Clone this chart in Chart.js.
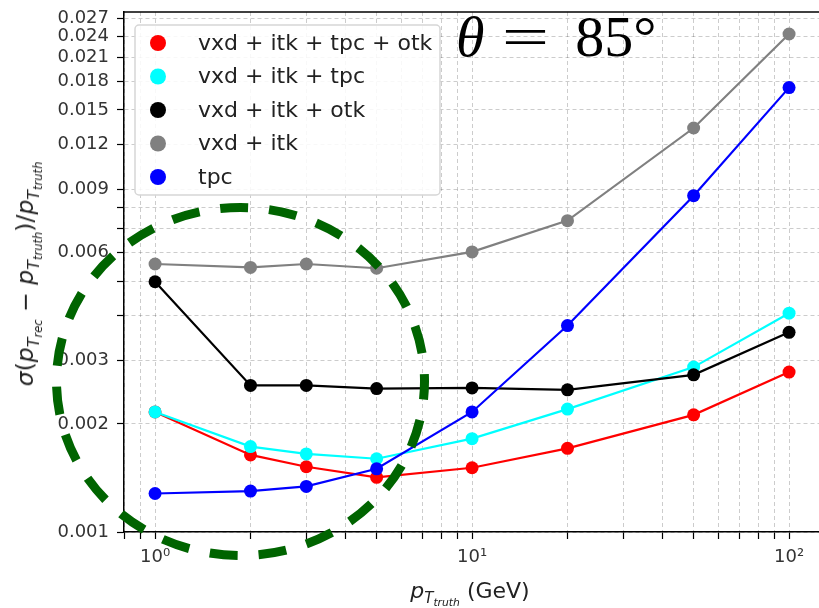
<!DOCTYPE html>
<html>
<head>
<meta charset="utf-8">
<script src="https://cdn.jsdelivr.net/npm/chart.js@4"></script>
<style>
  body { margin: 0; background: #fff; }
  #wrap { position: relative; width: 819px; height: 608px; overflow: hidden; }
  #chart { position: absolute; left: 0; top: 0; }
  .math { font-family: 'DejaVu Sans', sans-serif; color: #222; white-space: nowrap; position: absolute; }
  .math i { font-style: italic; }
  .s1 { font-size: 68%; position: relative; top: 0.35em; }
  .s2 { font-size: 72%; position: relative; top: 0.3em; }
  #ytitle { left: 25px; top: 274px; font-size: 23.5px; transform: translate(-50%, -50%) rotate(-90deg); }
  #xtitle { left: 470px; top: 590px; font-size: 22px; transform: translate(-50%, -50%); }
  #theta { left: 456px; top: 8px; font-family: 'Liberation Serif', serif; font-size: 58px; line-height: 1; color: #000; position: absolute; white-space: nowrap; }
  #theta .eq { display: inline-block; transform: scaleX(1.45); margin: 0 34px 0 24px; }
</style>
</head>
<body>
<div id="wrap">
  <canvas id="chart" width="819" height="608"></canvas>
  <div id="ytitle" class="math"><i>σ</i>(<i>p</i><span class="s1"><i>T</i><span class="s2"><i>rec</i></span></span> − <i>p</i><span class="s1"><i>T</i><span class="s2"><i>truth</i></span></span>)/<i>p</i><span class="s1"><i>T</i><span class="s2"><i>truth</i></span></span></div>
  <div id="xtitle" class="math"><i>p</i><span class="s1"><i>T</i><span class="s2"><i>truth</i></span></span> (GeV)</div>
  <div id="theta"><i>θ</i><span class="eq">=</span>85°</div>
</div>
<script>
// ---- data (theta = 85 deg)
const ptTruth = [1, 2, 3, 5, 10, 20, 50, 100];

const resVxdItkTpcOtk = [0.00216, 0.00164, 0.00152, 0.00142, 0.00151, 0.00171, 0.00212, 0.00279];
const resVxdItkTpc    = [0.00216, 0.00173, 0.00165, 0.00160, 0.00182, 0.00220, 0.00288, 0.00407];
const resVxdItkOtk    = [0.00498, 0.00256, 0.00256, 0.00251, 0.00252, 0.00249, 0.00274, 0.00360];
const resVxdItk       = [0.00558, 0.00546, 0.00558, 0.00543, 0.00603, 0.00737, 0.01335, 0.0244];
const resTpc          = [0.00128, 0.00130, 0.00134, 0.00150, 0.00216, 0.00376, 0.00865, 0.0173];

const seriesLabels = ['vxd + itk + tpc + otk', 'vxd + itk + tpc', 'vxd + itk + otk', 'vxd + itk', 'tpc'];
const seriesColors = ['#ff0000', '#00ffff', '#000000', '#808080', '#0000ff'];

const yTicks = [0.001, 0.002, 0.003, 0.004, 0.005, 0.006, 0.007, 0.008, 0.009,
                0.012, 0.015, 0.018, 0.021, 0.024, 0.027];
const yTickLabels = [0.001, 0.002, 0.003, 0.006, 0.009, 0.012, 0.015, 0.018, 0.021, 0.024, 0.027];
const xTicks = [0.8, 0.9, 1, 2, 3, 4, 5, 6, 7, 8, 9, 10, 20, 30, 40, 50, 60, 70, 80, 90, 100];
const xTickLabels = { 1: '10⁰', 10: '10¹', 100: '10²' };

const allSeries = [resVxdItkTpcOtk, resVxdItkTpc, resVxdItkOtk, resVxdItk, resTpc];

const datasets = allSeries.map((vals, i) => ({
  label: seriesLabels[i],
  data: ptTruth.map((x, k) => ({ x, y: vals[k] })),
  borderColor: seriesColors[i],
  backgroundColor: seriesColors[i],
  pointBackgroundColor: seriesColors[i],
  pointBorderColor: seriesColors[i],
  borderWidth: 2.2,
  pointRadius: 6.5,
  pointBorderWidth: 0,
  tension: 0,
  order: allSeries.length - 1 - i,   // later series on top, like matplotlib
}));

const gridColor = 'rgba(0,0,0,0.2)';
const tickFont = { family: 'DejaVu Sans', size: 18 };

// legend box drawn inside the axes, upper left
const legendPlugin = {
  id: 'innerLegend',
  afterDatasetsDraw(chart) {
    const ctx = chart.ctx;
    ctx.save();
    ctx.beginPath();
    ctx.roundRect(135, 25, 305, 170, 4);
    ctx.fillStyle = 'rgba(255,255,255,0.85)';
    ctx.fill();
    ctx.strokeStyle = '#d6d6d6';
    ctx.lineWidth = 1.5;
    ctx.stroke();
    ctx.font = '22px "DejaVu Sans"';
    ctx.textBaseline = 'middle';
    seriesLabels.forEach((lab, i) => {
      const y = 43 + i * 33.5;
      ctx.beginPath();
      ctx.arc(158, y, 8, 0, Math.PI * 2);
      ctx.fillStyle = seriesColors[i];
      ctx.fill();
      ctx.fillStyle = '#222';
      ctx.fillText(lab, 198, y + 1);
    });
    ctx.restore();
  }
};

// top spine + the dashed green highlight around the low-pT region
const overlayPlugin = {
  id: 'overlay',
  afterDraw(chart) {
    const { ctx, chartArea } = chart;
    ctx.save();
    ctx.strokeStyle = '#000';
    ctx.lineWidth = 1.5;
    ctx.beginPath();
    ctx.moveTo(chartArea.left, chartArea.top);
    ctx.lineTo(chartArea.right, chartArea.top);
    ctx.stroke();

    ctx.strokeStyle = '#006400';
    ctx.lineWidth = 9;
    ctx.setLineDash([28, 21]);
    ctx.lineDashOffset = 10;
    ctx.beginPath();
    ctx.ellipse(240.5, 381.5, 184, 174, 0, 0, Math.PI * 2);
    ctx.stroke();
    ctx.restore();
  }
};

new Chart(document.getElementById('chart'), {
  type: 'line',
  data: { datasets },
  options: {
    responsive: false,
    animation: false,
    layout: { autoPadding: false, padding: { left: 0, top: 12, right: 0, bottom: 0 } },
    plugins: { legend: { display: false }, tooltip: { enabled: false } },
    scales: {
      x: {
        type: 'logarithmic',
        min: 0.798,
        max: 124.3,
        afterBuildTicks: s => { s.ticks = xTicks.map(v => ({ value: v })); },
        afterFit: s => { s.height = 76; s.paddingLeft = 0; s.paddingRight = 0; },
        ticks: {
          autoSkip: false, maxRotation: 0, minRotation: 0,
          padding: 8, color: '#333', font: tickFont,
          callback: v => xTickLabels[Math.round(v)] && Math.abs(v - Math.round(v)) < 1e-6 ? xTickLabels[Math.round(v)] : ''
        },
        grid: { color: gridColor, lineWidth: 1, tickLength: 7, tickColor: '#000', tickWidth: 1.2 },
        border: { display: true, color: '#000', width: 1.5, dash: [4, 3] }
      },
      y: {
        type: 'logarithmic',
        min: 0.001,
        max: 0.0281,
        afterBuildTicks: s => { s.ticks = yTicks.map(v => ({ value: v })); },
        afterFit: s => { s.width = 124; s.paddingTop = 0; s.paddingBottom = 0; },
        ticks: {
          autoSkip: false, padding: 8, color: '#333', font: tickFont,
          callback: v => yTickLabels.some(t => Math.abs(t - v) < 1e-7) ? v.toFixed(3) : ''
        },
        grid: { color: gridColor, lineWidth: 1, tickLength: 7, tickColor: '#000', tickWidth: 1.2 },
        border: { display: true, color: '#000', width: 1.5, dash: [4, 3] }
      }
    }
  },
  plugins: [legendPlugin, overlayPlugin]
});
</script>
</body>
</html>
